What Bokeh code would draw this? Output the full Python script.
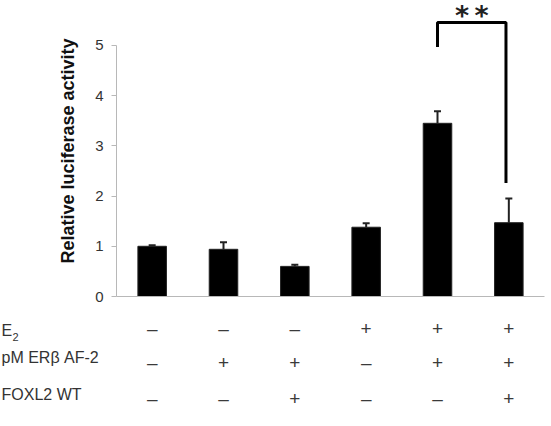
import numpy as np
from bokeh.plotting import figure
from bokeh.models import Range1d, FixedTicker, ColumnDataSource, Whisker, TeeHead
from bokeh.core.properties import value
from bokeh.embed import file_html
from bokeh.resources import INLINE

# ---- data ----
conditions = ["1", "2", "3", "4", "5", "6"]
activity = [1.00, 0.94, 0.60, 1.38, 3.45, 1.47]
error = [0.02, 0.14, 0.03, 0.08, 0.24, 0.48]
y_ticks = [0, 1, 2, 3, 4, 5]
row_labels = ["E", "pM ERβ AF-2", "FOXL2 WT"]
e2_signs = ["–", "–", "–", "+", "+", "+"]
er_signs = ["–", "+", "+", "–", "+", "+"]
foxl2_signs = ["–", "–", "+", "–", "–", "+"]
# significance bracket (data units)
bracket_x = [4.5, 4.5, 5.46, 5.46]
bracket_y = [4.97, 5.46, 5.46, 2.26]
stars = "*\u2009*"

FONT = "Liberation Sans"
x_pos = np.arange(len(conditions)) + 0.5
scale = 428 / 6.0

# ---- bar chart ----
p = figure(frame_width=428, frame_height=296,
           x_range=Range1d(0, 6), y_range=Range1d(0, 5.896),
           output_backend="svg", toolbar_location=None,
           min_border_left=116, min_border_right=7,
           min_border_top=0, min_border_bottom=14)
p.outline_line_color = None
p.grid.visible = False

src = ColumnDataSource(dict(x=x_pos, top=activity,
                            upper=np.array(activity) + np.array(error)))
p.vbar(x="x", top="top", width=0.4, source=src,
       fill_color="black", line_color="#222222")
p.add_layout(Whisker(source=src, base="x", upper="upper", lower="top",
                     dimension="height", line_color="#222222", line_width=2,
                     upper_head=TeeHead(size=7, line_color="#222222", line_width=2),
                     lower_head=None))

p.line(bracket_x, bracket_y, line_color="black", line_width=3)
p.text(x=[(bracket_x[0] + bracket_x[2]) / 2], y=[5.6], text=[stars],
       text_font=value("DejaVu Sans"), text_font_size="27px",
       text_font_style="bold",
       text_align="center", text_baseline="middle", text_color="#222222")

ax = p.yaxis[0]
ax.ticker = FixedTicker(ticks=y_ticks)
ax.bounds = (0, 5)
ax.axis_line_color = "#b8b8b8"
ax.major_tick_line_color = "#b8b8b8"
ax.major_tick_in = 0
ax.major_tick_out = 5
ax.minor_tick_line_color = None
ax.major_label_standoff = 8
ax.major_label_text_font = FONT
ax.major_label_text_font_size = "15px"
ax.major_label_text_color = "#333333"
ax.axis_label = "Relative  luciferase activity"
ax.axis_label_text_font = FONT
ax.axis_label_text_font_style = "bold"
ax.axis_label_text_font_size = "18px"
ax.axis_label_text_color = "#111111"
ax.axis_label_standoff = 14

xa = p.xaxis[0]
xa.ticker = FixedTicker(ticks=[])
xa.axis_line_color = "#b8b8b8"
xa.major_tick_line_color = None
xa.minor_tick_line_color = None

# ---- condition table (separate root, full-width frame) ----
t = figure(width=551, height=116,
           x_range=Range1d(-116 / scale, (551 - 116) / scale),
           y_range=Range1d(116, 0),
           x_axis_location=None, y_axis_location=None,
           output_backend="svg", toolbar_location=None,
           min_border=0)
t.outline_line_color = None
t.grid.visible = False

sym_rows = [18.3, 51.7, 88.3]
label_rows = [19.7, 47.0, 83.7]
x_left = -116 / scale
for signs, yy in zip([e2_signs, er_signs, foxl2_signs], sym_rows):
    t.text(x=x_pos, y=[yy] * len(signs), text=signs,
           text_font=value(FONT), text_font_size="19px",
           text_align="center", text_baseline="middle", text_color="#3a3a3a")

t.text(x=[x_left] * 3, y=label_rows, text=row_labels, x_offset=1,
       text_font=value(FONT), text_font_size="16px",
       text_align="left", text_baseline="middle", text_color="#333333")
t.text(x=[x_left], y=[label_rows[0] + 6.5], text=["2"], x_offset=12,
       text_font=value(FONT), text_font_size="11px",
       text_align="left", text_baseline="middle", text_color="#333333")

open("out.html", "w").write(file_html([p, t], INLINE))
